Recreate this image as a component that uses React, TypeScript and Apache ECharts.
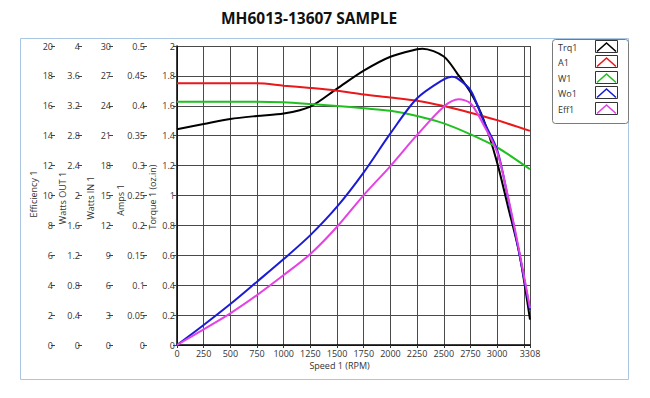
import React, { useEffect, useRef } from "react";
import * as echarts from "echarts";

const titleText = "MH6013-13607 SAMPLE";
const xMax = 3308;

const trqRpm = [0, 250, 500, 750, 1000, 1250, 1500, 1750, 2000, 2250, 2300, 2500, 2625, 2750, 2875, 3000, 3100, 3200, 3250, 3308];
const trqVals = [1.443, 1.478, 1.512, 1.532, 1.548, 1.595, 1.715, 1.835, 1.928, 1.978, 1.982, 1.93, 1.817, 1.69, 1.505, 1.22, 0.93, 0.64, 0.44, 0.17];

const ampRpm = [0, 250, 500, 750, 1000, 1250, 1500, 1750, 2000, 2250, 2500, 2750, 3000, 3308];
const ampVals = [0.4376, 0.4376, 0.4376, 0.4376, 0.4336, 0.4298, 0.4253, 0.419, 0.414, 0.4085, 0.3997, 0.3885, 0.376, 0.358];

const winRpm = [0, 250, 500, 750, 1000, 1250, 1500, 1750, 2000, 2250, 2500, 2750, 3000, 3308];
const winVals = [24.41, 24.41, 24.41, 24.41, 24.35, 24.18, 23.98, 23.75, 23.5, 22.98, 22.24, 21.14, 19.83, 17.63];

const woRpm = [0, 250, 500, 750, 1000, 1250, 1500, 1750, 2000, 2250, 2500, 2575, 2625, 2750, 2875, 3000, 3100, 3200, 3308];
const woVals = [0, 0.268, 0.548, 0.847, 1.15, 1.47, 1.85, 2.31, 2.83, 3.3, 3.554, 3.59, 3.57, 3.41, 2.99, 2.61, 1.98, 1.28, 0.47];

const effRpm = [0, 250, 500, 750, 1000, 1250, 1500, 1750, 2000, 2250, 2500, 2640, 2750, 2875, 3000, 3100, 3200, 3308];
const effVals = [0, 1.05, 2.12, 3.34, 4.68, 6.09, 7.91, 10.03, 11.97, 14.05, 15.94, 16.43, 16.17, 14.7, 12.9, 9.97, 6.55, 2.47];

const legendNames = ["Trq1", "A1", "W1", "Wo1", "Eff1"];
const seriesColors = ["#000000", "#e8181c", "#1fc01f", "#1b1bd6", "#e442e4"];

const axisNames = ["Torque 1 (oz.in)", "Amps 1", "Watts IN 1", "Watts OUT 1", "Efficiency 1"];
const axisMax = [2, 0.5, 30, 4, 20];
const axisInterval = [0.2, 0.05, 3, 0.4, 2];

const FONT = "'Open Sans', 'Noto Sans', sans-serif";
const GRID = "#4a4a4a";

function pairs(xs: number[], ys: number[]) {
  return xs.map((x, i) => [x, ys[i]]);
}

function yAxis(max: number, interval: number, offset: number, main: boolean) {
  return {
    type: "value",
    position: "left",
    min: 0,
    max,
    interval,
    offset,
    axisLine: { show: main, lineStyle: { color: "#000", width: 1.5 } },
    axisTick: { show: true, length: 4, lineStyle: { color: "#444" } },
    axisLabel: { fontSize: 9, color: "#333", margin: 2, fontFamily: FONT },
    splitLine: { show: main, lineStyle: { color: GRID, width: 1 } },
  };
}

export default function App() {
  const ref = useRef<HTMLDivElement>(null);
  useEffect(() => {
    if (!ref.current) return;
    const chart = echarts.init(ref.current, null, { renderer: "svg" });
    const legendX = 552;
    const legendY = 39;
    const rowY = [47, 62, 78, 93, 109];
    const offsets = [0, 30, 64, 95, 122];
    const nameX = [152, 120, 90, 62, 33];
    const nameY = [197, 200, 198, 198, 194];
    const gfx: any[] = [
      {
        type: "rect",
        shape: { x: 20.5, y: 38.5, width: 608, height: 341 },
        style: { fill: "none", stroke: "#a9c6e2", lineWidth: 1 },
        z: 0,
      },
      {
        type: "rect",
        shape: { x: legendX + 0.5, y: legendY + 0.5, width: 76, height: 84, r: 3 },
        style: { fill: "#fff", stroke: "#7a7a7a", lineWidth: 1 },
        z: 1,
      },
    ];
    axisNames.forEach((n, i) => {
      gfx.push({
        type: "text",
        x: nameX[i],
        y: nameY[i],
        rotation: Math.PI / 2,
        style: { text: n, fontSize: 9, fill: "#333", fontFamily: FONT, align: "center", verticalAlign: "middle" },
        z: 2,
      });
    });
    legendNames.forEach((n, i) => {
      const cy = rowY[i];
      gfx.push({
        type: "text",
        x: 558,
        y: cy,
        style: { text: n, fontSize: 9, fill: "#333", fontFamily: FONT, verticalAlign: "middle", align: "left" },
        z: 2,
      });
      gfx.push({
        type: "rect",
        shape: { x: 595.5, y: cy - 6.5, width: 22, height: 12 },
        style: { fill: "#fff", stroke: "#333", lineWidth: 1 },
        z: 2,
      });
      gfx.push({
        type: "polyline",
        shape: { points: [[597, cy + 4.5], [606.5, cy - 4], [616, cy + 4.5]] },
        style: { stroke: seriesColors[i], lineWidth: 1.6, fill: "none" },
        z: 3,
      });
    });

    const seriesData = [
      pairs(trqRpm, trqVals),
      pairs(ampRpm, ampVals),
      pairs(winRpm, winVals),
      pairs(woRpm, woVals),
      pairs(effRpm, effVals),
    ];

    chart.setOption({
      animation: false,
      backgroundColor: "#fff",
      title: {
        text: titleText,
        left: 216,
        top: 5,
        textStyle: { fontSize: 15.5, fontWeight: "bold", color: "#111", fontFamily: FONT },
      },
      grid: { left: 177, right: 120, top: 46, bottom: 53 },
      xAxis: {
        type: "value",
        min: 0,
        max: xMax,
        interval: 250,
        name: "Speed 1 (RPM)",
        nameLocation: "middle",
        nameGap: 16,
        nameMoveOverlap: false,
        nameTextStyle: { fontSize: 9, color: "#333", fontFamily: FONT, padding: [0, 28, 0, 0] },
        axisLine: { show: true, lineStyle: { color: "#000", width: 1.5 } },
        axisTick: { show: true, length: 3, lineStyle: { color: "#333" } },
        axisLabel: {
          fontSize: 9,
          color: "#333",
          margin: 4,
          fontFamily: FONT,
          showMaxLabel: true,
          formatter: (v: number) => (v === 3250 ? "" : String(v)),
        },
        splitLine: { show: true, lineStyle: { color: GRID, width: 1 } },
      },
      yAxis: axisMax.map((m, i) => yAxis(m, axisInterval[i], offsets[i], i === 0)),
      series: legendNames.map((n, i) => ({
        name: n,
        type: "line",
        yAxisIndex: i,
        data: seriesData[i],
        showSymbol: false,
        symbol: "none",
        smooth: 0.3,
        lineStyle: { color: seriesColors[i], width: 2 },
        z: 3 + i,
      })),
      graphic: gfx,
    });
    return () => chart.dispose();
  }, []);
  return <div ref={ref} style={{ position: "fixed", left: 0, top: 0, width: 650, height: 398 }} />;
}
